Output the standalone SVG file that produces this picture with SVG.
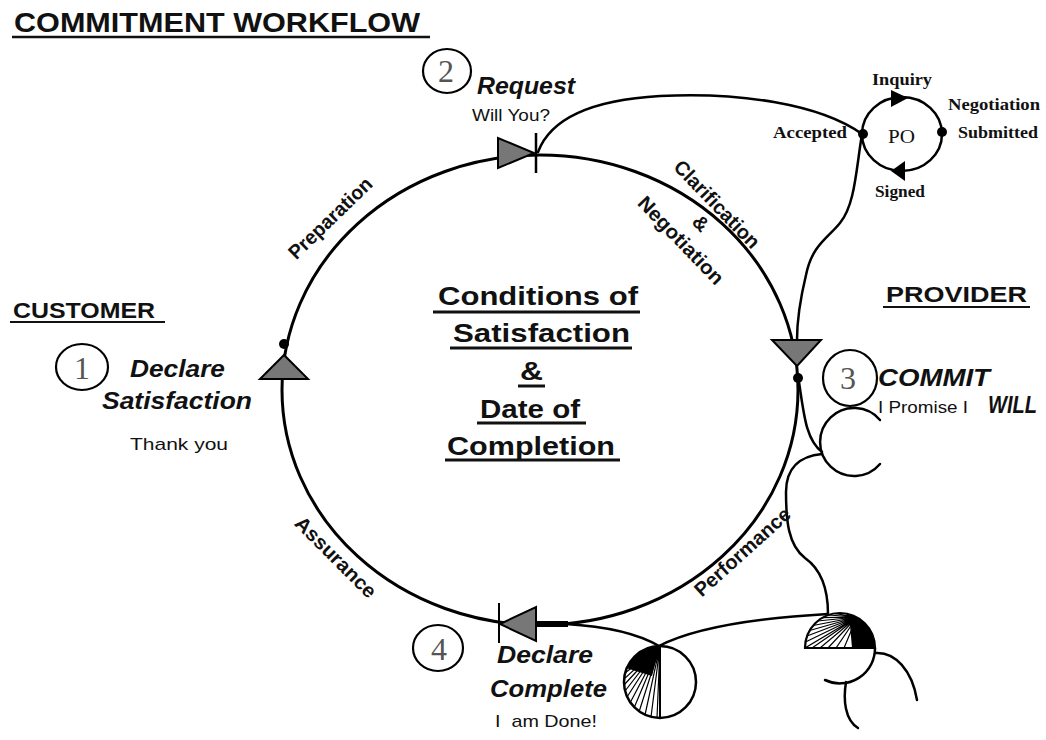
<svg xmlns="http://www.w3.org/2000/svg" width="1046" height="740" viewBox="0 0 1046 740">
<style>
.ln{fill:none;stroke:#000;stroke-width:2.5;stroke-linecap:round}
.ul{stroke:#111;stroke-width:2.5}
.arw{fill:#777;stroke:#000;stroke-width:2;stroke-linejoin:miter}
.dot{fill:#000}
.num{fill:none;stroke:#000;stroke-width:2.2}
.dig{font-family:"Liberation Serif",serif;font-size:32px;fill:#555;text-anchor:middle}
.h{font-family:"Liberation Sans",Arial,sans-serif;font-weight:bold;fill:#111}
.bi{font-family:"Liberation Sans",Arial,sans-serif;font-weight:bold;font-style:italic;font-size:23px;fill:#111}
.rg{font-family:"Liberation Sans",Arial,sans-serif;font-size:17px;fill:#111}
.arc{font-family:"Liberation Sans",Arial,sans-serif;font-weight:bold;font-size:20px;fill:#111;text-anchor:middle}
.ctr{font-family:"Liberation Sans",Arial,sans-serif;font-weight:bold;font-size:25px;fill:#111}
.po{font-family:"Liberation Serif",serif;font-weight:bold;font-size:17px;fill:#111}
.pol{font-family:"Liberation Serif",serif;font-size:18px;fill:#111}
.hat{stroke:#000;stroke-width:1.2;fill:none}
</style>
<defs>
<clipPath id="cl1"><path d="M660,646 A36,36 0 0 0 660,718 Z"/></clipPath>
<clipPath id="cl2"><path d="M805,648 A35,35 0 0 1 875,648 Z"/></clipPath>
</defs>

<g id="title">
<text class="h" x="14" y="32" font-size="28" textLength="406" lengthAdjust="spacingAndGlyphs">COMMITMENT WORKFLOW</text>
<line class="ul" x1="12" y1="37" x2="430" y2="37"/>
</g>
<g id="customer">
<text class="h" x="13" y="318" font-size="22" textLength="142" lengthAdjust="spacingAndGlyphs">CUSTOMER</text>
<line class="ul" x1="10" y1="322" x2="165" y2="322" style="stroke-width:2"/>
</g>
<g id="provider">
<text class="h" x="886" y="302" font-size="22" textLength="141" lengthAdjust="spacingAndGlyphs">PROVIDER</text>
<line class="ul" x1="883" y1="307" x2="1030" y2="307" style="stroke-width:2"/>
</g>

<g id="connectors">
<ellipse class="ln" cx="540" cy="390" rx="258" ry="235" style="stroke-width:3"/>
<path class="ln" d="M538,152 C550,120 590,100 660,96 C740,92 820,104 862,134"/>
<path class="ln" d="M862,134 C856,170 855,205 840,223 C828,238 812,245 806,275 C800,300 797,320 797,340"/>
<path class="ln" d="M799,382 C804,415 806,440 822,452"/>
<path class="ln" d="M822,454 C800,456 786,468 786,492 C786,520 788,545 805,558 C822,570 828,590 828,614"/>
<path class="ln" d="M880,420 A34,34 0 1 0 880,464"/>
<line x1="536" y1="624" x2="568" y2="624" stroke="#000" stroke-width="6"/>
<path class="ln" d="M566,624 C600,626 635,632 659,646"/>
<path class="ln" d="M659,646 C690,630 740,619 828,614"/>
<path class="ln" d="M846,682 C843,700 845,720 858,728"/>
<path class="ln" d="M876,653 C895,652 912,670 917,700"/>
</g>

<g id="arrow-request">
<polygon class="arw" points="498,138 498,168 534,153"/>
<line x1="536" y1="133" x2="536" y2="173" stroke="#000" stroke-width="2.5"/>
</g>
<g id="arrow-commit">
<polygon class="arw" points="772,340 821,340 797,366"/>
<circle class="dot" cx="798" cy="378" r="5"/>
</g>
<g id="arrow-satisfaction">
<polygon class="arw" points="284,355 260,379 308,379"/>
<circle class="dot" cx="284" cy="344" r="5"/>
</g>
<g id="arrow-complete">
<polygon class="arw" points="500,624 536,607 536,641"/>
<line x1="499" y1="603" x2="499" y2="643" stroke="#000" stroke-width="2"/>
</g>

<g id="node-1">
<ellipse class="num" cx="82" cy="367" rx="26" ry="23"/>
<text class="dig" x="82" y="379">1</text>
<text class="bi" x="130" y="377" textLength="95" lengthAdjust="spacingAndGlyphs">Declare</text>
<text class="bi" x="102" y="409" textLength="150" lengthAdjust="spacingAndGlyphs">Satisfaction</text>
<text class="rg" x="130" y="450" font-size="18" textLength="98" lengthAdjust="spacingAndGlyphs">Thank you</text>
</g>
<g id="node-2">
<ellipse class="num" cx="447" cy="71" rx="24" ry="22"/>
<text class="dig" x="446" y="82">2</text>
<text class="bi" x="477" y="94" font-size="22" textLength="98" lengthAdjust="spacingAndGlyphs">Request</text>
<text class="rg" x="472" y="121" textLength="78" lengthAdjust="spacingAndGlyphs">Will You?</text>
</g>
<g id="node-3">
<ellipse class="num" cx="850" cy="378" rx="27" ry="28"/>
<text class="dig" x="848" y="389">3</text>
<text class="bi" x="878" y="386" font-size="24" textLength="112" lengthAdjust="spacingAndGlyphs">COMMIT</text>
<text class="rg" x="878" y="413" textLength="90" lengthAdjust="spacingAndGlyphs">I Promise I</text>
<text class="bi" x="988" y="413" font-size="17" textLength="49" lengthAdjust="spacingAndGlyphs">WILL</text>
</g>
<g id="node-4">
<ellipse class="num" cx="438" cy="648" rx="25" ry="23"/>
<text class="dig" x="439" y="660">4</text>
<text class="bi" x="497" y="663" textLength="96" lengthAdjust="spacingAndGlyphs">Declare</text>
<text class="bi" x="490" y="697" textLength="117" lengthAdjust="spacingAndGlyphs">Complete</text>
<text class="rg" x="495" y="727" xml:space="preserve" textLength="102" lengthAdjust="spacingAndGlyphs">I  am Done!</text>
</g>

<g id="center">
<text class="ctr" x="438" y="305" textLength="200" lengthAdjust="spacingAndGlyphs">Conditions of</text>
<line class="ul" x1="433" y1="312" x2="640" y2="312" style="stroke-width:3"/>
<text class="ctr" x="453" y="342" textLength="177" lengthAdjust="spacingAndGlyphs">Satisfaction</text>
<line class="ul" x1="450" y1="348" x2="632" y2="348" style="stroke-width:3"/>
<text class="ctr" x="520" y="380" textLength="23" lengthAdjust="spacingAndGlyphs">&amp;</text>
<line class="ul" x1="518" y1="386" x2="545" y2="386" style="stroke-width:3"/>
<text class="ctr" x="480" y="418" textLength="100" lengthAdjust="spacingAndGlyphs">Date of</text>
<line class="ul" x1="477" y1="423" x2="586" y2="423" style="stroke-width:3"/>
<text class="ctr" x="447" y="455" textLength="168" lengthAdjust="spacingAndGlyphs">Completion</text>
<line class="ul" x1="445" y1="460" x2="620" y2="460" style="stroke-width:3"/>
</g>

<g id="arc-labels">
<text class="arc" transform="translate(335,223) rotate(-44)" textLength="108" lengthAdjust="spacingAndGlyphs">Preparation</text>
<text class="arc" transform="translate(712,209) rotate(46)" textLength="114" lengthAdjust="spacingAndGlyphs">Clarification</text>
<text class="arc" transform="translate(696,228) rotate(46)">&amp;</text>
<text class="arc" transform="translate(676,245) rotate(46)" textLength="114" lengthAdjust="spacingAndGlyphs">Negotiation</text>
<text class="arc" transform="translate(331,562) rotate(45)" textLength="106" lengthAdjust="spacingAndGlyphs">Assurance</text>
<text class="arc" transform="translate(747,557) rotate(-42)" textLength="122" lengthAdjust="spacingAndGlyphs">Performance</text>
</g>

<g id="po-cycle">
<ellipse cx="902" cy="134" rx="40" ry="37" fill="none" stroke="#000" stroke-width="2.5"/>
<polygon points="891,90 891,107 908,98" fill="#000"/>
<polygon points="891,171 905,161 905,181" fill="#000"/>
<circle class="dot" cx="863" cy="134" r="5"/>
<circle class="dot" cx="942" cy="132" r="5"/>
<text class="pol" x="888" y="143" textLength="27" lengthAdjust="spacingAndGlyphs">PO</text>
<text class="po" x="872" y="85" textLength="60" lengthAdjust="spacingAndGlyphs">Inquiry</text>
<text class="po" x="948" y="110" textLength="92" lengthAdjust="spacingAndGlyphs">Negotiation</text>
<text class="po" x="958" y="138" textLength="80" lengthAdjust="spacingAndGlyphs">Submitted</text>
<text class="po" x="773" y="138" textLength="74" lengthAdjust="spacingAndGlyphs">Accepted</text>
<text class="po" x="875" y="197" textLength="50" lengthAdjust="spacingAndGlyphs">Signed</text>
</g>

<g id="moon-left">
<g clip-path="url(#cl1)">
<path d="M660,646 L652,676 L626,668 A36,36 0 0 1 660,646 Z" fill="#000"/>
<path class="hat" d="M660,646 L657,718 M660,646 L651,717 M660,646 L645,715 M660,646 L639,712 M660,646 L634,708 M660,646 L630,703 M660,646 L627,697 M660,646 L625,691 M660,646 L624,685 M660,646 L624,679 M660,646 L625,673"/>
</g>
<circle cx="660" cy="682" r="36" fill="none" stroke="#000" stroke-width="2.5"/>
<line x1="660" y1="646" x2="660" y2="718" stroke="#000" stroke-width="2"/>
</g>

<g id="moon-right">
<g clip-path="url(#cl2)">
<path class="hat" d="M857,617 L805,648 M857,617 L805.5,642 M857,617 L807,636 M857,617 L809.7,630.5 M857,617 L813,625.5 M857,617 L817.5,621 M857,617 L822.5,617.7 M857,617 L828,615 M857,617 L834,613.5 M857,617 L812,648 M857,617 L820,648 M857,617 L828,648 M857,617 L836,648 M857,617 L844,648"/>
<path d="M846,613.5 A35,35 0 0 1 875,648 L852,648 L850,625 Z" fill="#000"/>
</g>
<path d="M805,648 A35,35 0 0 1 875,648 Z" fill="none" stroke="#000" stroke-width="2.2"/>
<path class="ln" d="M875,648 A35,35 0 0 1 825,680"/>
</g>
</svg>
